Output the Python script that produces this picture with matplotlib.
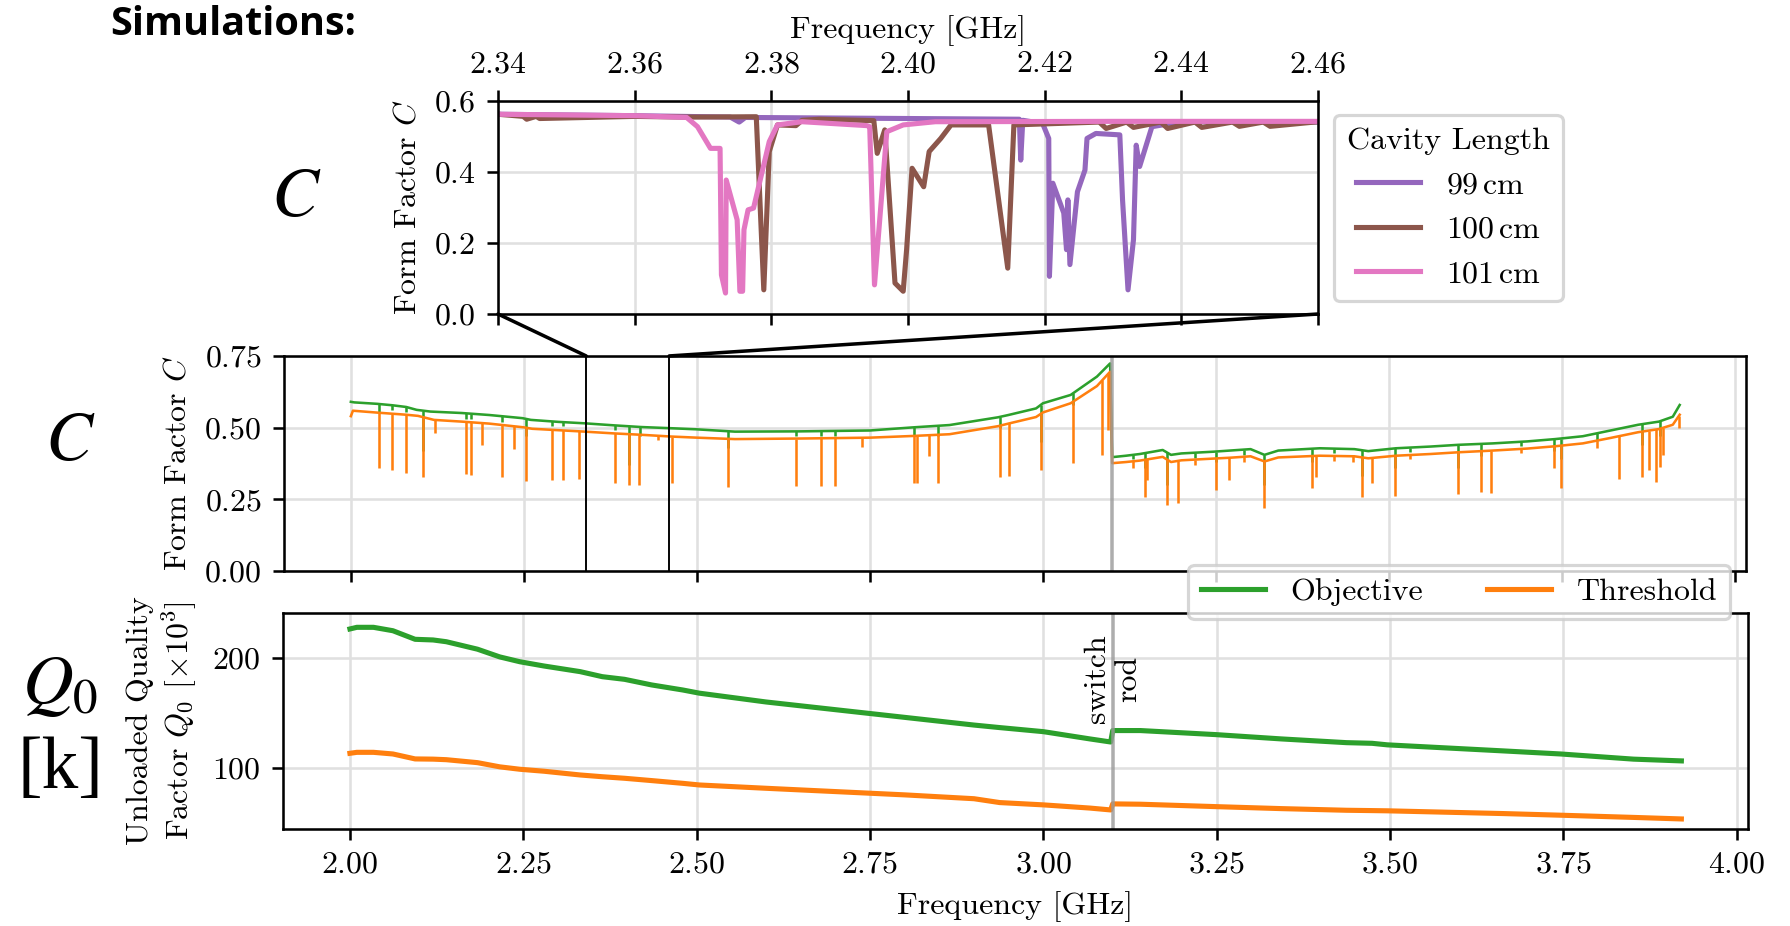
import numpy as np
import matplotlib
matplotlib.use("Agg")
import matplotlib.pyplot as plt
from matplotlib.patches import ConnectionPatch

plt.rcParams.update({
    "font.family": "serif",
    "font.serif": ["cmr10"],
    "mathtext.fontset": "cm",
    "axes.formatter.use_mathtext": True,
    "axes.unicode_minus": False,
    "font.size": 10,
})

# ---- zoom inset: form factor for three cavity lengths (2.34-2.46 GHz) ----
f_99 = [2.340, 2.360, 2.374, 2.3753, 2.3762, 2.400, 2.4163, 2.4165, 2.4168, 2.4197,
        2.4206, 2.4207, 2.4212, 2.4228, 2.4232, 2.4234, 2.4237, 2.4248, 2.4259, 2.4262,
        2.4275, 2.4310, 2.4314, 2.4322, 2.4330, 2.4334, 2.4339, 2.4357, 2.440, 2.460]
c_99 = [0.562, 0.558, 0.554, 0.540, 0.553, 0.550, 0.548, 0.433, 0.545, 0.536,
        0.494, 0.106, 0.368, 0.284, 0.181, 0.321, 0.139, 0.344, 0.405, 0.494,
        0.508, 0.504, 0.321, 0.068, 0.209, 0.475, 0.415, 0.527, 0.541, 0.540]

f_100 = [2.340, 2.3437, 2.3442, 2.3456, 2.3461, 2.360, 2.3675, 2.3778, 2.3789, 2.3797,
         2.3809, 2.3836, 2.3845, 2.3870, 2.3950, 2.3955, 2.3966, 2.3981, 2.3993, 2.3998,
         2.4006, 2.4023, 2.4031, 2.4048, 2.4063, 2.4110, 2.4118, 2.4146, 2.4155, 2.4280,
         2.4290, 2.4320, 2.4330, 2.4370, 2.4380, 2.4420, 2.4430, 2.4475, 2.4485, 2.4520,
         2.4530, 2.4600]
c_100 = [0.562, 0.556, 0.548, 0.556, 0.550, 0.556, 0.554, 0.555, 0.068, 0.457,
         0.532, 0.530, 0.545, 0.548, 0.544, 0.452, 0.518, 0.087, 0.064, 0.181,
         0.410, 0.358, 0.457, 0.494, 0.532, 0.532, 0.532, 0.129, 0.532, 0.540,
         0.522, 0.540, 0.525, 0.540, 0.522, 0.540, 0.525, 0.540, 0.528, 0.540,
         0.528, 0.541]

f_101 = [2.340, 2.360, 2.3676, 2.3692, 2.3711, 2.3725, 2.3727, 2.3733, 2.3734, 2.3750,
         2.3754, 2.3758, 2.3760, 2.3766, 2.3774, 2.3797, 2.3809, 2.3845, 2.3940, 2.3944,
         2.3951, 2.3969, 2.3993, 2.4040, 2.4300, 2.4600]
c_101 = [0.562, 0.558, 0.553, 0.527, 0.466, 0.466, 0.110, 0.059, 0.377, 0.265,
         0.064, 0.064, 0.237, 0.293, 0.298, 0.485, 0.532, 0.541, 0.530, 0.527,
         0.082, 0.513, 0.532, 0.541, 0.542, 0.542]

# ---- form factor over full range: smooth level plus mode-crossing dips ----
obj_f = [2.000, 2.005, 2.038, 2.060, 2.080, 2.095, 2.115, 2.160, 2.200, 2.248,
         2.260, 2.300, 2.338, 2.380, 2.420, 2.462, 2.500, 2.555, 2.650, 2.750,
         2.813, 2.865, 2.935, 2.950, 2.990, 3.000, 3.040, 3.078, 3.097,
         3.100, 3.120, 3.140, 3.173, 3.185, 3.200, 3.246, 3.270, 3.300, 3.320,
         3.340, 3.400, 3.450, 3.470, 3.510, 3.560, 3.600, 3.650, 3.700, 3.740,
         3.780, 3.820, 3.860, 3.890, 3.910, 3.920]
obj_c = [0.590, 0.588, 0.583, 0.578, 0.572, 0.562, 0.556, 0.551, 0.544, 0.533,
         0.527, 0.520, 0.515, 0.508, 0.502, 0.498, 0.494, 0.486, 0.487, 0.490,
         0.501, 0.509, 0.536, 0.544, 0.567, 0.585, 0.614, 0.678, 0.724,
         0.397, 0.402, 0.408, 0.422, 0.405, 0.410, 0.416, 0.420, 0.425, 0.405,
         0.420, 0.428, 0.425, 0.418, 0.428, 0.434, 0.440, 0.445, 0.452, 0.460,
         0.470, 0.490, 0.510, 0.521, 0.538, 0.579]

thr_f = [2.000, 2.003, 2.040, 2.080, 2.097, 2.120, 2.160, 2.200, 2.250, 2.262,
         2.300, 2.338, 2.379, 2.420, 2.462, 2.500, 2.555, 2.650, 2.750, 2.813,
         2.865, 2.935, 2.950, 2.990, 3.000, 3.040, 3.078, 3.097,
         3.100, 3.120, 3.140, 3.173, 3.185, 3.200, 3.246, 3.270, 3.300, 3.320,
         3.340, 3.400, 3.450, 3.470, 3.510, 3.560, 3.600, 3.650, 3.700, 3.740,
         3.780, 3.820, 3.860, 3.890, 3.910, 3.920]
thr_c = [0.540, 0.559, 0.552, 0.545, 0.541, 0.527, 0.521, 0.514, 0.501, 0.496,
         0.491, 0.486, 0.480, 0.475, 0.469, 0.465, 0.460, 0.462, 0.465, 0.471,
         0.477, 0.505, 0.514, 0.537, 0.553, 0.585, 0.645, 0.695,
         0.376, 0.380, 0.385, 0.398, 0.380, 0.386, 0.392, 0.395, 0.400, 0.382,
         0.396, 0.402, 0.400, 0.393, 0.402, 0.408, 0.414, 0.420, 0.427, 0.435,
         0.445, 0.464, 0.484, 0.495, 0.510, 0.545]

obj_dip_f = [2.040, 2.059, 2.079, 2.104, 2.166, 2.174, 2.218, 2.253, 2.290, 2.306,
             2.382, 2.402, 2.418, 2.545, 2.643, 2.679, 2.700, 2.813, 2.848, 2.938,
             2.997, 3.043, 3.130, 3.147, 3.179, 3.220, 3.250, 3.290, 3.320, 3.388,
             3.420, 3.461, 3.509, 3.530, 3.600, 3.633, 3.690, 3.739, 3.748, 3.800,
             3.866, 3.891]
obj_dip_c = [0.555, 0.560, 0.555, 0.420, 0.530, 0.530, 0.520, 0.470, 0.505, 0.505,
             0.490, 0.370, 0.470, 0.430, 0.470, 0.470, 0.470, 0.470, 0.470, 0.500,
             0.450, 0.580, 0.390, 0.360, 0.300, 0.395, 0.380, 0.405, 0.300, 0.380,
             0.410, 0.330, 0.360, 0.415, 0.360, 0.400, 0.435, 0.420, 0.390, 0.455,
             0.440, 0.470]

thr_dip_f = [2.040, 2.059, 2.079, 2.104, 2.121, 2.166, 2.174, 2.189, 2.218, 2.235,
             2.253, 2.290, 2.306, 2.330, 2.382, 2.402, 2.417, 2.444, 2.464, 2.545,
             2.643, 2.679, 2.700, 2.738, 2.813, 2.818, 2.836, 2.848, 2.938, 2.951,
             2.997, 3.043, 3.086, 3.094, 3.130, 3.147, 3.151, 3.179, 3.195, 3.220,
             3.250, 3.269, 3.290, 3.320, 3.388, 3.395, 3.420, 3.448, 3.461, 3.476,
             3.509, 3.530, 3.600, 3.633, 3.647, 3.690, 3.739, 3.748, 3.800, 3.833,
             3.866, 3.876, 3.886, 3.891, 3.896, 3.919]
thr_dip_c = [0.358, 0.352, 0.341, 0.327, 0.480, 0.337, 0.335, 0.440, 0.329, 0.424,
             0.315, 0.317, 0.317, 0.320, 0.306, 0.300, 0.300, 0.456, 0.306, 0.294,
             0.297, 0.297, 0.297, 0.434, 0.308, 0.308, 0.400, 0.308, 0.329, 0.331,
             0.352, 0.378, 0.405, 0.492, 0.360, 0.259, 0.317, 0.230, 0.236, 0.370,
             0.282, 0.317, 0.380, 0.218, 0.290, 0.329, 0.385, 0.381, 0.259, 0.306,
             0.262, 0.390, 0.269, 0.277, 0.271, 0.410, 0.358, 0.288, 0.430, 0.320,
             0.327, 0.352, 0.311, 0.364, 0.405, 0.500]

# ---- unloaded quality factor Q0 (x1e3) ----
q_f = [2.000, 2.010, 2.034, 2.062, 2.094, 2.120, 2.139, 2.184, 2.216, 2.245,
       2.280, 2.332, 2.364, 2.396, 2.435, 2.480, 2.504, 2.600, 2.700, 2.800,
       2.900, 2.937, 3.000, 3.067, 3.097,
       3.100, 3.140, 3.249, 3.343, 3.437, 3.474, 3.496, 3.663, 3.746, 3.851, 3.920]
q_obj = [226.4, 227.9, 227.9, 224.8, 217.0, 216.4, 214.8, 208.0, 201.0, 196.6,
         192.7, 187.6, 183.0, 180.6, 175.5, 170.9, 168.0, 160.0, 153.0, 146.0,
         139.0, 136.7, 133.0, 126.4, 123.6,
         134.0, 134.0, 130.3, 126.4, 123.0, 122.4, 121.0, 115.5, 112.7, 108.0, 106.4]
q_thr = [113.3, 114.2, 114.2, 112.7, 108.2, 108.0, 107.5, 104.8, 101.0, 98.8,
         97.0, 93.6, 92.0, 90.6, 88.5, 86.0, 84.5, 81.5, 78.5, 75.5,
         72.0, 68.5, 66.4, 63.5, 61.8,
         67.3, 67.0, 64.8, 63.0, 61.5, 61.2, 61.0, 58.5, 57.0, 55.0, 53.6]

F_SWITCH = 3.10
ZOOM = (2.34, 2.46)
XLIM = (1.9035, 4.016)
GRID = dict(color="0.88", lw=0.8)

fig = plt.figure(figsize=(1790 / 230, 926 / 230), dpi=230)
ax_in = fig.add_axes([0.2782, 0.6609, 0.4581, 0.2303])
ax_c = fig.add_axes([0.1587, 0.3834, 0.8168, 0.2322])
ax_q = fig.add_axes([0.1581, 0.1048, 0.8184, 0.2333])

# inset
ax_in.plot(f_99, c_99, color="tab:purple", lw=1.6, label="99$\\,$cm")
ax_in.plot(f_100, c_100, color="tab:brown", lw=1.6, label="100$\\,$cm")
ax_in.plot(f_101, c_101, color="tab:pink", lw=1.6, label="101$\\,$cm")
ax_in.set_xlim(*ZOOM)
ax_in.set_ylim(0, 0.6)
ax_in.set_xticks(np.arange(2.34, 2.4601, 0.02))
ax_in.set_yticks([0.0, 0.2, 0.4, 0.6])
ax_in.tick_params(top=True, labeltop=True, bottom=True, labelbottom=False)
ax_in.xaxis.set_label_position("top")
ax_in.set_xlabel("Frequency [GHz]")
ax_in.set_ylabel("Form Factor $C$")
ax_in.grid(**GRID)
ax_in.set_axisbelow(True)
ax_in.legend(title="Cavity Length", loc="upper left", bbox_to_anchor=(1.0195, 0.933),
             borderaxespad=0)

# form factor, full range
ax_c.plot(obj_f, obj_c, color="tab:green", lw=0.8)
ax_c.vlines(obj_dip_f, obj_dip_c, np.interp(obj_dip_f, obj_f, obj_c),
            color="tab:green", lw=0.8)
ax_c.plot(thr_f, thr_c, color="tab:orange", lw=0.8)
ax_c.vlines(thr_dip_f, thr_dip_c, np.interp(thr_dip_f, thr_f, thr_c),
            color="tab:orange", lw=0.8)
ax_c.axvline(F_SWITCH, color="0.6", lw=1.1, alpha=0.8)
for fz in ZOOM:
    ax_c.axvline(fz, color="k", lw=0.6)
ax_c.set_xlim(*XLIM)
ax_c.set_ylim(0, 0.75)
ax_c.set_yticks([0, 0.25, 0.5, 0.75])
ax_c.set_xticks(np.arange(2.0, 4.01, 0.25))
ax_c.tick_params(labelbottom=False)
ax_c.set_ylabel("Form Factor $C$")
ax_c.grid(**GRID)
ax_c.set_axisbelow(True)

# quality factor
ax_q.plot(q_f, q_obj, color="tab:green", lw=1.6, label="Objective")
ax_q.plot(q_f, q_thr, color="tab:orange", lw=1.6, label="Threshold")
ax_q.axvline(F_SWITCH, color="0.6", lw=1.1, alpha=0.8)
ax_q.text(F_SWITCH, 181, "switch\nrod", rotation=90, ha="center", va="center",
          multialignment="center")
ax_q.set_xlim(*XLIM)
ax_q.set_ylim(44.5, 241)
ax_q.set_yticks([100, 200])
ax_q.set_xticks(np.arange(2.0, 4.01, 0.25))
ax_q.set_xlabel("Frequency [GHz]")
ax_q.set_ylabel("Unloaded Quality\nFactor $Q_0$ [$\\times 10^3$]")
ax_q.grid(**GRID)
ax_q.set_axisbelow(True)

fig.legend(*ax_q.get_legend_handles_labels(), loc="upper right", ncol=2,
           bbox_to_anchor=(1730 / 1790, 1 - 565 / 926), borderaxespad=0)

# zoom connectors
for fz in ZOOM:
    con = ConnectionPatch(xyA=(fz, 0), coordsA=ax_in.transData,
                          xyB=(fz, 0.75), coordsB=ax_c.transData, color="k", lw=1.1)
    fig.add_artist(con)

# slide annotations
fig.text(0.0615, 0.974, "Simulations:", family="Open Sans", weight="bold", fontsize=12.4,
         ha="left", va="center")
fig.text(0.1654, 0.786, "$C$", fontsize=22, math_fontfamily="stix", ha="center", va="center")
fig.text(0.0391, 0.523, "$C$", fontsize=22, math_fontfamily="stix", ha="center", va="center")
fig.text(0.0335, 0.258, "$Q_0$", fontsize=22, math_fontfamily="stix", ha="center", va="center")
fig.text(0.0335, 0.168, "[k]", fontsize=23, family="Liberation Serif", ha="center", va="center")

fig.savefig("out.png", dpi=230)
